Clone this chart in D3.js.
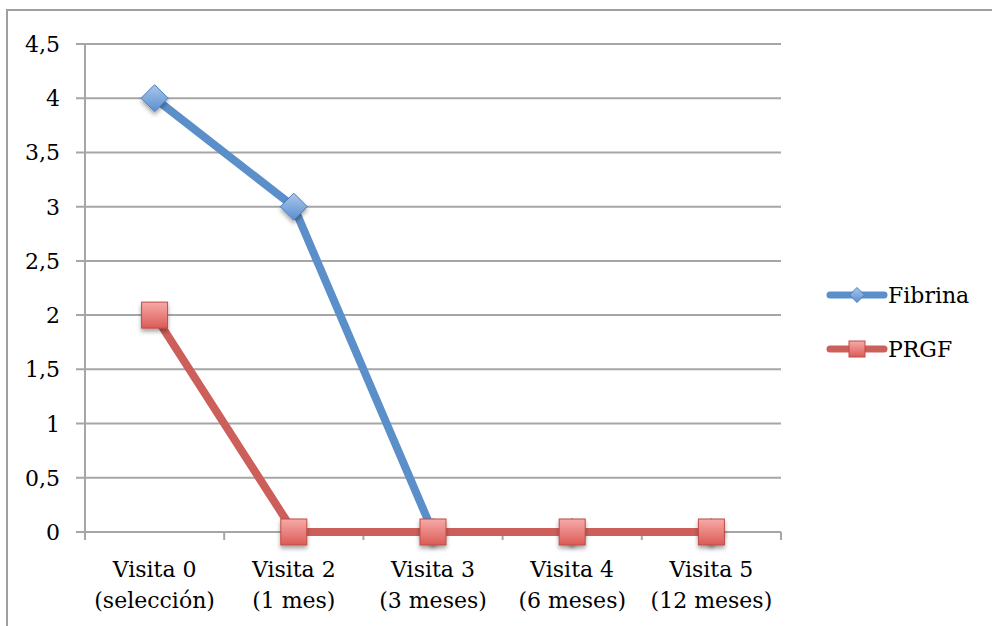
<!DOCTYPE html>
<html>
<head>
<meta charset="utf-8">
<script src="https://cdn.jsdelivr.net/npm/d3@7"></script>
<style>
  html, body { margin: 0; padding: 0; background: #fff; }
  svg { display: block; }
  text { font-family: "DejaVu Serif", serif; fill: #000; }
</style>
</head>
<body>
<svg id="chart" width="992" height="626"></svg>
<script>
// Categories (two-line labels) and series values
const categories = ["Visita 0", "Visita 2", "Visita 3", "Visita 4", "Visita 5"];
const subLabels = ["(selección)", "(1 mes)", "(3 meses)", "(6 meses)", "(12 meses)"];
const fibrina = [4, 3, 0, 0, 0];
const prgf = [2, 0, 0, 0, 0];
const yTicks = [0, 0.5, 1, 1.5, 2, 2.5, 3, 3.5, 4, 4.5];
const seriesNames = ["Fibrina", "PRGF"];

const svg = d3.select("#chart");
const W = 992, H = 626;
const plot = { left: 85, right: 781, top: 44, bottom: 532 };
const gridColor = "#a6a6a6";
const fontSize = 22;

const locale = d3.formatLocale({ decimal: ",", thousands: ".", grouping: [3], currency: ["", "€"] });
const fmt = locale.format("~g");

const x = d3.scaleBand().domain(categories).range([plot.left, plot.right]).paddingInner(0).paddingOuter(0);
const cx = c => x(c) + x.bandwidth() / 2;
const y = d3.scaleLinear().domain([0, 4.5]).range([plot.bottom, plot.top]);

// defs: marker gradients and soft shadow
const defs = svg.append("defs");
const gBlue = defs.append("linearGradient").attr("id", "gBlue").attr("x1", 0).attr("y1", 0).attr("x2", 0).attr("y2", 1);
gBlue.append("stop").attr("offset", "0%").attr("stop-color", "#a9c6ec");
gBlue.append("stop").attr("offset", "100%").attr("stop-color", "#5b8fd0");
const gRed = defs.append("linearGradient").attr("id", "gRed").attr("x1", 0).attr("y1", 0).attr("x2", 0).attr("y2", 1);
gRed.append("stop").attr("offset", "0%").attr("stop-color", "#f7aaa7");
gRed.append("stop").attr("offset", "100%").attr("stop-color", "#dc5b57");
const sh = defs.append("filter").attr("id", "shadow").attr("x", "-50%").attr("y", "-50%").attr("width", "200%").attr("height", "200%");
sh.append("feDropShadow").attr("dx", 0).attr("dy", 3).attr("stdDeviation", 2.2)
  .attr("flood-color", "#000").attr("flood-opacity", 0.35);

// outer chart border
svg.append("rect").attr("x", 7).attr("y", 10).attr("width", W + 20).attr("height", H + 20)
  .attr("fill", "none").attr("stroke", "#a0a0a0").attr("stroke-width", 2);

// horizontal gridlines with left tick extension
svg.append("g").selectAll("line").data(yTicks.filter(d => d > 0)).join("line")
  .attr("x1", plot.left - 9).attr("x2", plot.right)
  .attr("y1", d => y(d)).attr("y2", d => y(d))
  .attr("stroke", gridColor).attr("stroke-width", 2);

// y axis line
svg.append("line").attr("x1", plot.left).attr("x2", plot.left)
  .attr("y1", y(4.5)).attr("y2", plot.bottom + 8)
  .attr("stroke", gridColor).attr("stroke-width", 2);

// x axis line and tick marks at category boundaries
svg.append("line").attr("x1", plot.left - 9).attr("x2", plot.right)
  .attr("y1", y(0)).attr("y2", y(0)).attr("stroke", gridColor).attr("stroke-width", 2);
const bounds = categories.map(c => x(c)).concat([x(categories[categories.length - 1]) + x.bandwidth()]);
svg.append("g").selectAll("line").data(bounds.slice(1)).join("line")
  .attr("x1", d => d).attr("x2", d => d)
  .attr("y1", y(0)).attr("y2", y(0) + 8)
  .attr("stroke", gridColor).attr("stroke-width", 2);

// y tick labels
svg.append("g").selectAll("text").data(yTicks).join("text")
  .attr("x", 60).attr("y", d => y(d) + 8)
  .attr("text-anchor", "end").attr("font-size", fontSize)
  .text(d => fmt(d));

// x tick labels (two lines)
const xl = svg.append("g").selectAll("text").data(categories).join("text")
  .attr("text-anchor", "middle").attr("font-size", fontSize);
xl.append("tspan").attr("x", d => cx(d)).attr("y", 577).text(d => d);
xl.append("tspan").attr("x", d => cx(d)).attr("y", 608).text((d, i) => subLabels[i]);

// series lines
const line = d3.line().x((d, i) => cx(categories[i])).y(d => y(d));
const blue = "#5b8fca", red = "#cd5f5a";
svg.append("path").datum(fibrina).attr("d", line).attr("fill", "none")
  .attr("stroke", blue).attr("stroke-width", 8).attr("stroke-linejoin", "round");

// diamond markers for Fibrina
const diamond = s => `M0,${-s}L${s},0L0,${s}L${-s},0Z`;
svg.append("g").selectAll("path").data(fibrina).join("path")
  .attr("transform", (d, i) => `translate(${cx(categories[i])},${y(d)})`)
  .attr("d", diamond(13.5))
  .attr("fill", "url(#gBlue)").attr("stroke", "#4a7ebb").attr("stroke-width", 1)
  .attr("filter", "url(#shadow)");

svg.append("path").datum(prgf).attr("d", line).attr("fill", "none")
  .attr("stroke", red).attr("stroke-width", 8).attr("stroke-linejoin", "round");

// square markers for PRGF
svg.append("g").selectAll("rect").data(prgf).join("rect")
  .attr("x", (d, i) => cx(categories[i]) - 13).attr("y", d => y(d) - 13)
  .attr("width", 26).attr("height", 26)
  .attr("fill", "url(#gRed)").attr("stroke", "#be4b48").attr("stroke-width", 1)
  .attr("filter", "url(#shadow)");

// legend
const legend = svg.append("g");
const legY = [295, 349];
const legColors = [blue, red];
seriesNames.forEach((name, i) => {
  legend.append("line").attr("x1", 830).attr("x2", 884).attr("y1", legY[i]).attr("y2", legY[i])
    .attr("stroke", legColors[i]).attr("stroke-width", 7).attr("stroke-linecap", "round");
  if (i === 0) {
    legend.append("path").attr("transform", `translate(857,${legY[i]})`).attr("d", diamond(7.5))
      .attr("fill", "url(#gBlue)").attr("stroke", "#4a7ebb").attr("stroke-width", 1);
  } else {
    legend.append("rect").attr("x", 849).attr("y", legY[i] - 8).attr("width", 16).attr("height", 16)
      .attr("fill", "url(#gRed)").attr("stroke", "#be4b48").attr("stroke-width", 1);
  }
  legend.append("text").attr("x", 888).attr("y", legY[i] + 8).attr("font-size", fontSize).text(name);
});
</script>
</body>
</html>
